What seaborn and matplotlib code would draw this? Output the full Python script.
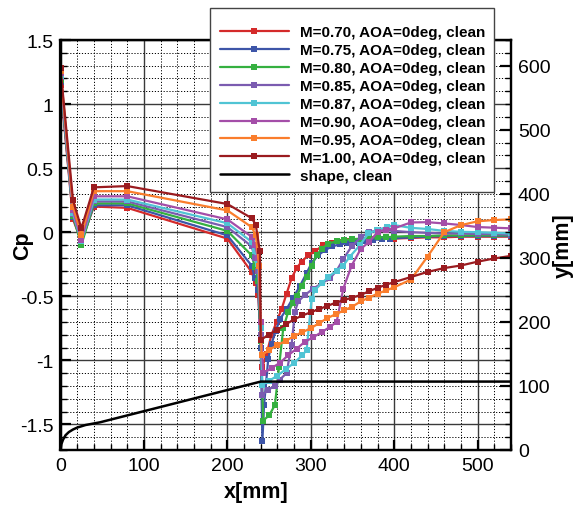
import matplotlib
matplotlib.use("Agg")
import matplotlib.pyplot as plt
from matplotlib.patches import Rectangle
from matplotlib.ticker import MultipleLocator, FuncFormatter
import seaborn as sns

# ---- surface pressure distributions, x in mm ----
x_m070 = [0, 15, 25, 40, 80, 200, 229, 234, 237, 240, 242, 247, 253, 259, 265, 271, 277, 283, 289, 297,
          305, 315, 325, 335, 345, 355, 365, 375, 385, 400, 420, 440, 460, 480, 500, 520, 540]
cp_m070 = [1.15, 0.10, -0.07, 0.20, 0.19, -0.05, -0.31, -0.40, -0.49, -0.85, -1.05, -0.95, -0.80, -0.70,
           -0.60, -0.48, -0.36, -0.28, -0.23, -0.18, -0.15, -0.10, -0.085, -0.075, -0.07, -0.065, -0.06,
           -0.055, -0.05, -0.05, -0.045, -0.04, -0.04, -0.035, -0.035, -0.035, -0.035]

x_m075 = [0, 15, 25, 40, 80, 200, 229, 233, 237, 240, 242, 244, 249, 253, 258, 263, 271, 279, 287, 295,
          301, 309, 317, 326, 335, 345, 355, 365, 375, 385, 395, 420, 440, 460, 480, 500, 520, 540]
cp_m075 = [1.17, 0.12, -0.08, 0.21, 0.21, -0.025, -0.26, -0.36, -0.45, -0.90, -1.63, -1.35, -0.99, -0.87,
           -0.77, -0.68, -0.60, -0.51, -0.42, -0.32, -0.24, -0.18, -0.14, -0.11, -0.095, -0.085, -0.075,
           -0.07, -0.06, -0.055, -0.05, -0.04, -0.035, -0.03, -0.03, -0.03, -0.03, -0.03]

x_m080 = [0, 15, 25, 40, 80, 200, 229, 233, 237, 240, 243, 250, 257, 262, 267, 273, 279, 283, 289, 295,
          301, 307, 313, 321, 331, 340, 350, 360, 370, 380, 390, 400, 420, 440, 460, 480, 500, 520, 540]
cp_m080 = [1.19, 0.13, -0.10, 0.225, 0.225, 0.01, -0.18, -0.27, -0.38, -0.85, -1.47, -1.43, -1.35, -1.05,
           -0.75, -0.62, -0.55, -0.50, -0.42, -0.35, -0.26, -0.18, -0.13, -0.09, -0.07, -0.06, -0.055,
           -0.05, -0.045, -0.04, -0.04, -0.035, -0.03, -0.03, -0.025, -0.025, -0.025, -0.025, -0.025]

x_m085 = [0, 15, 25, 40, 80, 200, 229, 233, 237, 240, 242, 249, 257, 263, 271, 277, 281, 285, 293, 303,
          313, 323, 331, 339, 349, 360, 370, 380, 390, 400, 420, 440, 460, 480, 500, 520, 540]
cp_m085 = [1.21, 0.14, -0.07, 0.24, 0.24, 0.04, -0.11, -0.20, -0.30, -0.80, -1.27, -1.23, -1.20, -1.15,
           -1.10, -0.88, -0.62, -0.54, -0.49, -0.44, -0.40, -0.36, -0.30, -0.21, -0.11, -0.04, 0.0, 0.015,
           0.015, 0.01, 0.0, -0.005, -0.01, -0.01, -0.015, -0.015, -0.02]

x_m087 = [0, 15, 25, 40, 80, 200, 229, 233, 237, 240, 242, 250, 260, 270, 280, 290, 295, 301, 305, 313,
          321, 331, 339, 347, 359, 369, 379, 391, 400, 420, 440, 460, 480, 500, 520, 540]
cp_m087 = [1.22, 0.15, -0.07, 0.255, 0.255, 0.07, -0.075, -0.15, -0.25, -0.75, -1.19, -1.16, -1.12, -1.07,
           -1.02, -0.96, -0.92, -0.52, -0.45, -0.40, -0.35, -0.30, -0.26, -0.19, -0.10, -0.01, 0.016, 0.04,
           0.055, 0.034, 0.025, 0.01, 0.003, 0.0, -0.005, -0.01]

x_m090 = [0, 15, 25, 40, 80, 200, 229, 233, 237, 240, 243, 253, 263, 273, 283, 293, 303, 313, 323, 331,
          339, 349, 360, 370, 380, 390, 400, 420, 440, 460, 480, 500, 520, 540]
cp_m090 = [1.24, 0.17, -0.06, 0.28, 0.28, 0.10, -0.035, -0.10, -0.20, -0.70, -1.10, -1.06, -1.02, -0.96,
           -0.91, -0.855, -0.82, -0.78, -0.74, -0.70, -0.44, -0.26, -0.13, -0.075, 0.0, 0.02, 0.03, 0.076,
           0.078, 0.068, 0.056, 0.04, 0.035, 0.03]

x_m095 = [0, 15, 25, 40, 80, 200, 229, 234, 238, 241, 250, 260, 270, 280, 290, 300, 310, 320, 330, 340,
          350, 360, 370, 380, 390, 400, 420, 440, 460, 480, 500, 520, 540]
cp_m095 = [1.26, 0.20, -0.02, 0.32, 0.32, 0.17, 0.04, -0.02, -0.26, -0.96, -0.92, -0.88, -0.85, -0.81,
           -0.78, -0.75, -0.71, -0.67, -0.64, -0.61, -0.58, -0.54, -0.51, -0.48, -0.455, -0.43, -0.37,
           -0.19, 0.0, 0.055, 0.085, 0.095, 0.10]

x_m100 = [0, 15, 25, 40, 80, 200, 229, 234, 239, 240, 250, 260, 270, 280, 290, 300, 310, 320, 330, 340,
          350, 360, 370, 380, 390, 400, 420, 440, 460, 480, 500, 520, 540]
cp_m100 = [1.28, 0.25, 0.03, 0.35, 0.36, 0.22, 0.11, 0.06, -0.15, -0.84, -0.80, -0.76, -0.72, -0.68,
           -0.65, -0.625, -0.60, -0.575, -0.55, -0.53, -0.51, -0.49, -0.46, -0.435, -0.41, -0.39, -0.35,
           -0.31, -0.28, -0.26, -0.23, -0.205, -0.185]

# body contour (radius, mm)
shape_x = [0, 1, 3, 6, 10, 15, 20, 30, 47.3, 240, 540]
shape_y = [0, 9, 16, 23, 28, 32, 35, 39, 43.2, 106.8, 106.8]

labels = ["M=0.70, AOA=0deg, clean", "M=0.75, AOA=0deg, clean", "M=0.80, AOA=0deg, clean",
          "M=0.85, AOA=0deg, clean", "M=0.87, AOA=0deg, clean", "M=0.90, AOA=0deg, clean",
          "M=0.95, AOA=0deg, clean", "M=1.00, AOA=0deg, clean"]
shape_label = "shape, clean"

series_x = [x_m070, x_m075, x_m080, x_m085, x_m087, x_m090, x_m095, x_m100]
series_cp = [cp_m070, cp_m075, cp_m080, cp_m085, cp_m087, cp_m090, cp_m095, cp_m100]
colors = ["#d42a2a", "#3d55a8", "#35b040", "#7b5cb0", "#50c4d4", "#a44ea8", "#fa7d2c", "#9a1b1f"]

sns.set_style("white")
plt.rcParams["font.family"] = ["Liberation Sans", "DejaVu Sans"]
plt.rcParams["axes.unicode_minus"] = False
for key in ("text.color", "axes.labelcolor", "xtick.color", "ytick.color", "axes.edgecolor"):
    plt.rcParams[key] = "black"

W, H = 582, 506
fig = plt.figure(figsize=(W / 100, H / 100), dpi=100)
ax = fig.add_axes([60.5 / W, 55 / H, 450.5 / W, 410 / H])
ax2 = ax.twinx()

for xs, cs, col, lab in zip(series_x, series_cp, colors, labels):
    sns.lineplot(x=xs, y=cs, ax=ax, color=col, label=lab, sort=False, estimator=None,
                 marker="s", markersize=4, markeredgewidth=0, linewidth=1.6, legend=False)

sns.lineplot(x=shape_x, y=shape_y, ax=ax2, color="black", label=shape_label, sort=False,
             estimator=None, linewidth=1.8, legend=False)

ax.set_xlim(0, 540)
ax.set_ylim(-1.7, 1.5)
ax2.set_ylim(0, 640)

ax.xaxis.set_major_locator(MultipleLocator(100))
ax.xaxis.set_minor_locator(MultipleLocator(20))
ax.yaxis.set_major_locator(MultipleLocator(0.5))
ax.yaxis.set_minor_locator(MultipleLocator(0.1))
ax2.yaxis.set_major_locator(MultipleLocator(100))
ax2.yaxis.set_minor_locator(MultipleLocator(20))
ax.yaxis.set_major_formatter(FuncFormatter(lambda v, p: f"{v:g}"))

ax.grid(which="major", color="#3a3a3a", linewidth=1.0, linestyle="-")
ax.grid(which="minor", color="black", linewidth=0.7, linestyle=(0, (1.2, 1.8)))
ax.set_axisbelow(True)

for a in (ax, ax2):
    for sp in a.spines.values():
        sp.set_linewidth(1.6)
        sp.set_color("black")
ax.tick_params(which="major", direction="in", length=7, width=1.6, labelsize=14, pad=5,
               left=True, bottom=True, right=False, top=False, colors="black")
ax.tick_params(which="minor", direction="in", length=4, width=1.0, left=True, bottom=True,
               right=False, top=False, colors="black")
ax2.tick_params(which="major", direction="in", length=8, width=1.6, labelsize=14, pad=5,
                colors="black")
ax2.tick_params(which="minor", direction="in", length=4, width=1.0, colors="black")

ax.set_xlabel("x[mm]", fontsize=15.5, fontweight="bold")
ax.set_ylabel("Cp", fontsize=15.5, fontweight="bold")
ax2.set_ylabel("y[mm]", fontsize=15.5, fontweight="bold")
ax.xaxis.set_label_coords((256 - 60.5) / 450.5, -0.075)
ax.yaxis.set_label_coords(-0.06, 0.5)
ax2.yaxis.set_label_coords(1.093, 0.5)

# legend box: white panel with a thin dark frame, entries placed inside it
box = Rectangle((210 / W, 1 - 193 / H), 284 / W, 184 / H, transform=fig.transFigure,
                facecolor="white", edgecolor="#444444", linewidth=1.0, zorder=3)
fig.add_artist(box)

h1, l1 = ax.get_legend_handles_labels()
h2, l2 = ax2.get_legend_handles_labels()
leg = fig.legend(h1 + h2, l1 + l2, loc="upper left", bbox_to_anchor=(220 / W, 1 - 26 / H),
                 bbox_transform=fig.transFigure, borderaxespad=0, frameon=False, numpoints=1,
                 handlelength=4.5, handletextpad=0.72, labelspacing=0.26, borderpad=0,
                 prop={"weight": "bold", "size": 11})
leg.set_zorder(4)

fig.savefig("out.png", dpi=100)
